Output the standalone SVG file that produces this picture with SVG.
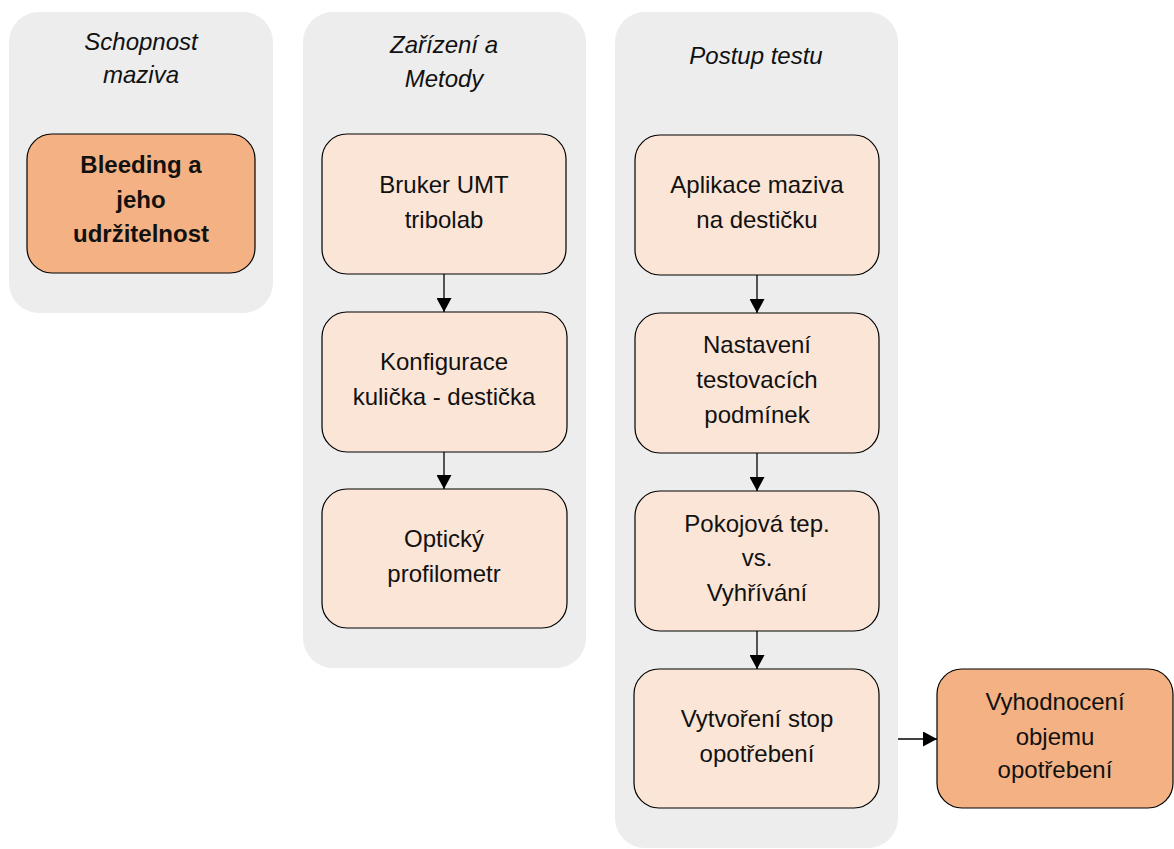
<svg xmlns="http://www.w3.org/2000/svg" width="1174" height="849" viewBox="0 0 1174 849">
<style>
.lane{fill:#EDEDED;stroke:none}
.lt{fill:#FBE5D6;stroke:#000;stroke-width:1.2}
.dk{fill:#F4B183;stroke:#000;stroke-width:1.2}
text{font-family:"Liberation Sans",Arial,sans-serif;font-size:24px;fill:#111;text-anchor:middle}
.ttl{font-style:italic}
.b{font-weight:bold}
.con{stroke:#000;stroke-width:1.3;fill:none;marker-end:url(#ah)}
</style>
<defs>
<marker id="ah" markerUnits="userSpaceOnUse" markerWidth="15" markerHeight="15" refX="14" refY="7.5" orient="auto">
<path d="M0,0 L14,7.5 L0,15 z" fill="#000"/>
</marker>
</defs>
<rect width="1174" height="849" fill="#fff"/>
<g id="lane1">
<rect class="lane" x="9" y="12" width="264" height="301" rx="30"/>
<text class="ttl" x="141" y="50">Schopnost</text>
<text class="ttl" x="141" y="83">maziva</text>
</g>
<g id="lane2">
<rect class="lane" x="303" y="12" width="283" height="656" rx="30"/>
<text class="ttl" x="444" y="53">Zařízení a</text>
<text class="ttl" x="444" y="87">Metody</text>
</g>
<g id="lane3">
<rect class="lane" x="615" y="12" width="283" height="836" rx="30"/>
<text class="ttl" x="756" y="64">Postup testu</text>
</g>
<g id="n-bleeding">
<rect class="dk" x="27" y="134" width="228" height="139" rx="25"/>
<text class="b" x="141" y="173">Bleeding a</text>
<text class="b" x="141" y="208">jeho</text>
<text class="b" x="141" y="242">udržitelnost</text>
</g>
<g id="n-bruker">
<rect class="lt" x="322" y="134" width="244" height="140" rx="25"/>
<text x="444" y="193">Bruker UMT</text>
<text x="444" y="228">tribolab</text>
</g>
<g id="n-konfigurace">
<rect class="lt" x="322" y="312" width="245" height="140" rx="25"/>
<text x="444" y="370">Konfigurace</text>
<text x="444" y="405">kulička - destička</text>
</g>
<g id="n-opticky">
<rect class="lt" x="322" y="489" width="245" height="139" rx="25"/>
<text x="444" y="547">Optický</text>
<text x="444" y="582">profilometr</text>
</g>
<g id="n-aplikace">
<rect class="lt" x="635" y="135" width="244" height="140" rx="25"/>
<text x="757" y="193">Aplikace maziva</text>
<text x="757" y="228">na destičku</text>
</g>
<g id="n-nastaveni">
<rect class="lt" x="635" y="313" width="244" height="140" rx="25"/>
<text x="757" y="353">Nastavení</text>
<text x="757" y="388">testovacích</text>
<text x="757" y="423">podmínek</text>
</g>
<g id="n-pokojova">
<rect class="lt" x="635" y="491" width="244" height="140" rx="25"/>
<text x="757" y="532">Pokojová tep.</text>
<text x="757" y="566">vs.</text>
<text x="757" y="601">Vyhřívání</text>
</g>
<g id="n-vytvoreni">
<rect class="lt" x="634" y="669" width="245" height="139" rx="25"/>
<text x="757" y="727">Vytvoření stop</text>
<text x="757" y="762">opotřebení</text>
</g>
<g id="n-vyhodnoceni">
<rect class="dk" x="937" y="669" width="236" height="139" rx="25"/>
<text x="1055" y="710">Vyhodnocení</text>
<text x="1055" y="745">objemu</text>
<text x="1055" y="778">opotřebení</text>
</g>
<g id="connectors">
<line class="con" x1="444" y1="274" x2="444" y2="312"/>
<line class="con" x1="444" y1="452" x2="444" y2="489"/>
<line class="con" x1="757" y1="275" x2="757" y2="313"/>
<line class="con" x1="757" y1="453" x2="757" y2="491"/>
<line class="con" x1="757" y1="631" x2="757" y2="669"/>
<line class="con" x1="898" y1="739" x2="937" y2="739"/>
</g>
</svg>
